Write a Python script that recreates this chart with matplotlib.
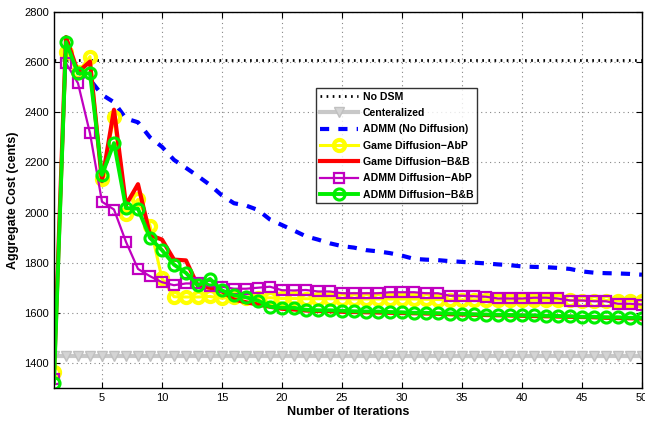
import numpy as np
import matplotlib
matplotlib.use("Agg")
import matplotlib.pyplot as plt

plt.rcParams['font.family'] = ['Liberation Sans', 'DejaVu Sans']

iterations = np.arange(1, 51)

no_dsm_value = 2608
centralized_value = 1426

admm_no_diff = [np.nan, np.nan, 2560, 2530, 2470, 2440, 2375, 2360, 2300, 2262,
                2210, 2178, 2145, 2110, 2068, 2037, 2028, 2010, 1972, 1950,
                1928, 1905, 1892, 1877, 1866, 1860, 1850, 1845, 1838, 1828,
                1815, 1812, 1810, 1806, 1803, 1800, 1797, 1793, 1790, 1785,
                1783, 1782, 1779, 1775, 1765, 1760, 1758, 1757, 1755, 1752]

game_abp = [1362, 2640, 2560, 2622, 2135, 2381, 1996, 2052, 1948, 1737,
            1664, 1663, 1663, 1665, 1658, 1662, 1660, 1658, 1660, 1657,
            1657, 1656, 1656, 1656, 1656, 1655, 1655, 1655, 1655, 1655,
            1655, 1654, 1653, 1652, 1651, 1652, 1652, 1651, 1651, 1650,
            1650, 1650, 1650, 1650, 1649, 1649, 1649, 1648, 1648, 1648]

game_bb = [1355, 2700, 2560, 2602, 2125, 2410, 2030, 2113, 1910, 1892,
           1812, 1809, 1706, 1700, 1686, 1653, 1642, 1633, 1624, 1616,
           1613, 1609, 1607, 1606, 1604, 1603, 1602, 1601, 1600, 1599,
           1598, 1597, 1596, 1594, 1593, 1592, 1591, 1590, 1589, 1588,
           1587, 1586, 1585, 1584, 1583, 1582, 1580, 1579, 1578, 1577]

admm_abp = [1335, 2596, 2516, 2316, 2043, 2012, 1883, 1775, 1746, 1722,
            1710, 1717, 1717, 1706, 1704, 1696, 1696, 1700, 1704, 1690,
            1689, 1691, 1685, 1685, 1678, 1678, 1678, 1678, 1682, 1682,
            1682, 1678, 1678, 1668, 1668, 1666, 1664, 1657, 1657, 1657,
            1660, 1660, 1657, 1649, 1649, 1646, 1646, 1636, 1636, 1633]

admm_bb = [1320, 2680, 2555, 2555, 2150, 2277, 2018, 2015, 1899, 1850,
           1792, 1759, 1709, 1735, 1689, 1670, 1662, 1649, 1624, 1620,
           1620, 1612, 1610, 1610, 1608, 1606, 1605, 1605, 1603, 1602,
           1600, 1600, 1598, 1597, 1596, 1594, 1593, 1592, 1591, 1590,
           1590, 1588, 1587, 1586, 1584, 1584, 1582, 1582, 1580, 1580]

labels = ['No DSM', 'Centeralized', 'ADMM (No Diffusion)', 'Game Diffusion\u2212AbP',
          'Game Diffusion\u2212B&B', 'ADMM Diffusion\u2212AbP', 'ADMM Diffusion\u2212B&B']

fig = plt.figure(figsize=(6.45, 4.22), dpi=100)
ax = fig.add_axes([0.0837, 0.0806, 0.9116, 0.891])

ax.plot(iterations, np.full(len(iterations), no_dsm_value), color='k',
        linestyle=(0, (0.6, 1.6)), linewidth=2.0, label=labels[0])
ax.plot(iterations, np.full(len(iterations), centralized_value), color='#c8c8c8',
        linewidth=3, marker='v', markersize=7, markerfacecolor='#d4d4d4',
        markeredgecolor='#c0c0c0', label=labels[1])
ax.plot(iterations, np.array(admm_no_diff, dtype=float), color='#0000ff',
        linestyle=(0, (2.2, 2.2)), linewidth=3, label=labels[2])
ax.plot(iterations, game_abp, color='#ffff00', linewidth=2.2, marker='o',
        markersize=8, markerfacecolor='none', markeredgewidth=3, label=labels[3])
ax.plot(iterations, game_bb, color='#ff0000', linewidth=3, label=labels[4])
ax.plot(iterations, admm_abp, color='#c000c0', linewidth=1.6, marker='s',
        markersize=6.5, markerfacecolor='none', markeredgewidth=1.6, label=labels[5])
ax.plot(iterations, admm_bb, color='#00ee00', linewidth=2.8, marker='o',
        markersize=8, markerfacecolor='none', markeredgewidth=2.2, label=labels[6])

ax.set_xlim(1, 50)
ax.set_ylim(1300, 2800)
ax.set_xticks([5, 10, 15, 20, 25, 30, 35, 40, 45, 50])
ax.set_yticks([1400, 1600, 1800, 2000, 2200, 2400, 2600, 2800])
ax.tick_params(direction='in', top=True, right=True, length=4, labelsize=8)
ax.grid(True, color='#888888', linestyle=(0, (1, 3)), linewidth=0.8)
for s in ax.spines.values():
    s.set_linewidth(1.0)

ax.set_xlabel('Number of Iterations', fontsize=9, fontweight='bold', labelpad=2)
ax.set_ylabel('Aggregate Cost (cents)', fontsize=9, fontweight='bold', labelpad=4)

leg = ax.legend(loc='upper left', bbox_to_anchor=(0.4456, 0.798),
                prop={'weight': 'bold', 'size': 7.6}, frameon=True, fancybox=False,
                edgecolor='k', handlelength=3.6, borderpad=0.35, labelspacing=0.6,
                handletextpad=0.5, borderaxespad=0)
leg.get_frame().set_linewidth(1.0)

fig.savefig('out.png', dpi=100)
